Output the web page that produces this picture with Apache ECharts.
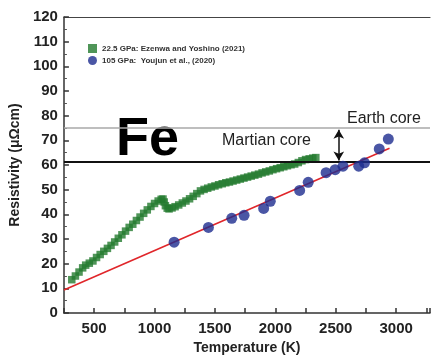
<!DOCTYPE html>
<html>
<head>
<meta charset="utf-8">
<script src="https://cdn.jsdelivr.net/npm/echarts@6/dist/echarts.min.js"></script>
<style>
  html, body { margin: 0; padding: 0; background: #fff; }
  #main { width: 433px; height: 360px; }
</style>
</head>
<body>
<div id="main"></div>
<script>
// tick labels
var xTicks = [500, 1000, 1500, 2000, 2500, 3000];
var yTicks = [0, 10, 20, 30, 40, 50, 60, 70, 80, 90, 100, 110, 120];

// 22.5 GPa, Ezenwa and Yoshino (2021) - [T (K), rho]
var ezenwa = [
  [315,13.5],[345,15],[375,16.6],[405,18.3],[430,19.4],[460,20.2],[490,21.1],[520,22.5],
  [550,23.7],[580,25],[610,26.2],[640,27.4],[670,28.8],[700,30.3],[730,31.7],[760,33.2],
  [790,34.7],[820,36],[850,37.5],[880,38.9],[910,40.4],[940,41.8],[970,43.2],[1000,44.4],
  [1030,45.4],[1055,46.1],[1070,46.2],[1080,45],[1090,43.5],[1105,42.5],[1120,42.2],
  [1145,42.6],[1170,43.1],[1200,43.8],[1230,44.6],[1260,45.4],[1290,46.3],[1320,47.3],
  [1350,48.4],[1380,49.5],[1410,50.1],[1440,50.6],[1470,51.1],[1500,51.5],[1530,52],
  [1560,52.4],[1590,52.8],[1620,53.1],[1650,53.5],[1680,53.9],[1710,54.3],[1740,54.7],
  [1770,55.1],[1800,55.5],[1830,55.9],[1860,56.3],[1890,56.8],[1920,57.2],[1950,57.6],
  [1980,58.1],[2010,58.5],[2040,58.9],[2070,59.3],[2100,59.7],[2130,60.1],[2160,60.4],
  [2190,61],[2220,61.7],[2250,62.2],[2280,62.5],[2310,62.8],[2335,63]
];

// 105 GPa, Youjun et al. (2020)
var youjun = [
  [1162,28.7],[1446,34.7],[1639,38.4],[1741,39.6],[1903,42.4],[1958,45.3],[2201,49.7],
  [2272,53],[2420,56.9],[2495,58.1],[2560,59.5],[2690,59.5],[2738,60.9],[2860,66.5],[2935,70.5]
];

// linear fit (red)
var fitLine = [[250, 9.3], [2945, 66.8]];

// core reference levels
var earthCore = 75;
var martianCore = 61.2;
var arrowT = 2525;

var font = 'Liberation Sans, Arial, sans-serif';

var chart = echarts.init(document.getElementById('main'));
chart.setOption({
  animation: false,
  grid: { left: 60, right: 0, top: 17, bottom: 41 },
  legend: {
    orient: 'vertical',
    left: 83, top: 39,
    itemWidth: 9, itemHeight: 9, itemGap: 3,
    textStyle: { fontFamily: font, fontSize: 8, fontWeight: 'bold', color: '#333' },
    data: [
      { name: '22.5 GPa: Ezenwa and Yoshino (2021)', icon: 'rect' },
      { name: '105 GPa:  Youjun et al., (2020)', icon: 'circle' }
    ]
  },
  xAxis: [{
    type: 'value', min: 250, max: 3280, interval: 250,
    name: 'Temperature (K)', nameLocation: 'middle', nameGap: 28,
    nameTextStyle: { fontFamily: font, fontSize: 14, fontWeight: 'bold', color: '#222' },
    axisLine: { lineStyle: { color: '#333', width: 1.5 } },
    axisTick: { inside: true, length: 5, lineStyle: { color: '#333', width: 1.5 } },
    minorTick: { show: false },
    splitLine: { show: false },
    axisLabel: {
      fontFamily: font, fontSize: 15, fontWeight: 'bold', color: '#222', margin: 8,
      formatter: function (v) { return xTicks.indexOf(v) >= 0 ? v : ''; }
    }
  }, {
    type: 'value', position: 'top', min: 250, max: 3280,
    axisLine: { show: true, onZero: false, lineStyle: { color: '#444', width: 1.2 } },
    axisTick: { show: false }, axisLabel: { show: false }, splitLine: { show: false }
  }],
  yAxis: {
    type: 'value', min: 0, max: 120, interval: 10,
    name: 'Resistivity (\u03bc\u03a9cm)', nameLocation: 'middle', nameGap: 40,
    nameTextStyle: { fontFamily: font, fontSize: 14, fontWeight: 'bold', color: '#222' },
    axisLine: { show: true, lineStyle: { color: '#333', width: 1.5 } },
    axisTick: { inside: true, length: 5, lineStyle: { color: '#333', width: 1.5 } },
    minorTick: { show: true, splitNumber: 2, length: 3, lineStyle: { color: '#555' } },
    splitLine: { show: false },
    axisLabel: {
      fontFamily: font, fontSize: 15, fontWeight: 'bold', color: '#222', margin: 6,
      formatter: function (v) { return yTicks.indexOf(v) >= 0 ? v : ''; }
    }
  },
  series: [{
    name: 'fit', type: 'line', data: fitLine, symbol: 'none',
    lineStyle: { color: '#e0262a', width: 1.6 }, z: 3,
    markLine: {
      silent: true, symbol: 'none', label: { show: false },
      data: [
        { yAxis: earthCore, lineStyle: { color: '#a8a8a8', width: 1.5, type: 'solid' } },
        { yAxis: martianCore, lineStyle: { color: '#111', width: 2, type: 'solid' } },
        [
          { coord: [arrowT, 74.3], symbol: 'arrow', symbolSize: [8, 9] },
          { coord: [arrowT, 61.8], symbol: 'arrow', symbolSize: [8, 9] }
        ]
      ],
      lineStyle: { color: '#111', width: 1.5, type: 'solid' }
    }
  }, {
    name: '22.5 GPa: Ezenwa and Yoshino (2021)', type: 'scatter', data: ezenwa,
    symbol: 'rect', symbolSize: 7.5, itemStyle: { color: '#237a2e' }, z: 4
  }, {
    name: '105 GPa:  Youjun et al., (2020)', type: 'scatter', data: youjun,
    symbol: 'circle', symbolSize: 11, itemStyle: { color: '#1d2c8e' }, z: 5
  }],
  graphic: [
    { type: 'text', left: 116, top: 113,
      style: { text: 'Fe', fontFamily: font, fontSize: 54, fontWeight: 'bold', fill: '#000' } },
    { type: 'text', left: 222, top: 133,
      style: { text: 'Martian core', fontFamily: font, fontSize: 16, fill: '#222' } },
    { type: 'text', left: 347, top: 111,
      style: { text: 'Earth core', fontFamily: font, fontSize: 16, fill: '#222' } }
  ]
});
</script>
</body>
</html>
